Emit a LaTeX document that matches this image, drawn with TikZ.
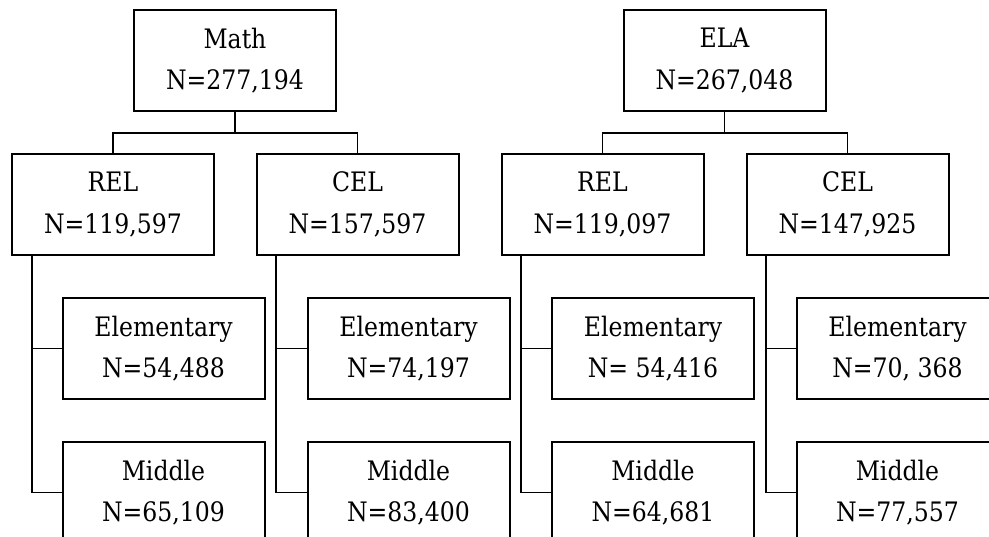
\documentclass[tikz,border=0pt]{standalone}
\usepackage{fontspec}
\setmainfont{DejaVu Serif}[FakeStretch=0.88]
\begin{document}
\begin{tikzpicture}[x=1pt,y=-1pt,
  box/.style={draw, line width=2pt, minimum width=202pt, minimum height=101pt,
    inner sep=0pt, align=center, font=\fontsize{26.8}{41.5}\selectfont},
  conn/.style={line width=1.8pt}]
\useasboundingbox (0,0) rectangle (989,537);
\clip (0,0) rectangle (989,537);
% top level
\node[box] (math) at (235,60.5) {Math\\N=277,194};
\node[box] (ela) at (724.5,60.5) {ELA\\N=267,048};
% second level
\node[box] (rel1) at (113,204.5) {REL\\N=119,597};
\node[box] (cel1) at (357.5,204.5) {CEL\\N=157,597};
\node[box] (rel2) at (602.5,204.5) {REL\\N=119,097};
\node[box] (cel2) at (847.5,204.5) {CEL\\N=147,925};
% third level
\node[box] (e1) at (163.5,348.5) {Elementary\\N=54,488};
\node[box] (e2) at (408.5,348.5) {Elementary\\N=74,197};
\node[box] (e3) at (653,348.5) {Elementary\\N= 54,416};
\node[box] (e4) at (897.5,348.5) {Elementary\\N=70, 368};
\node[box] (m1) at (163.5,492.5) {Middle\\N=65,109};
\node[box] (m2) at (408.5,492.5) {Middle\\N=83,400};
\node[box] (m3) at (653,492.5) {Middle\\N=64,681};
\node[box] (m4) at (897.5,492.5) {Middle\\N=77,557};
% bus coordinates
\coordinate (bm) at (235,133);
\coordinate (be) at (724.5,133);
\coordinate (t1) at (32,255);
\coordinate (t2) at (276,255);
\coordinate (t3) at (521,255);
\coordinate (t4) at (766,255);
% connectors top
\draw[conn] (math.south) -- (bm);
\draw[conn] (rel1.north) |- (bm) -| (cel1.north);
\draw[conn] (ela.south) -- (be);
\draw[conn] (rel2.north) |- (be) -| (cel2.north);
% connectors lower
\foreach \t/\e/\m in {t1/e1/m1, t2/e2/m2, t3/e3/m3, t4/e4/m4}{
  \draw[conn] (\t) |- (\m.west);
  \draw[conn] (\e.west) -- (\e.west -| \t);
}
\end{tikzpicture}
\end{document}
